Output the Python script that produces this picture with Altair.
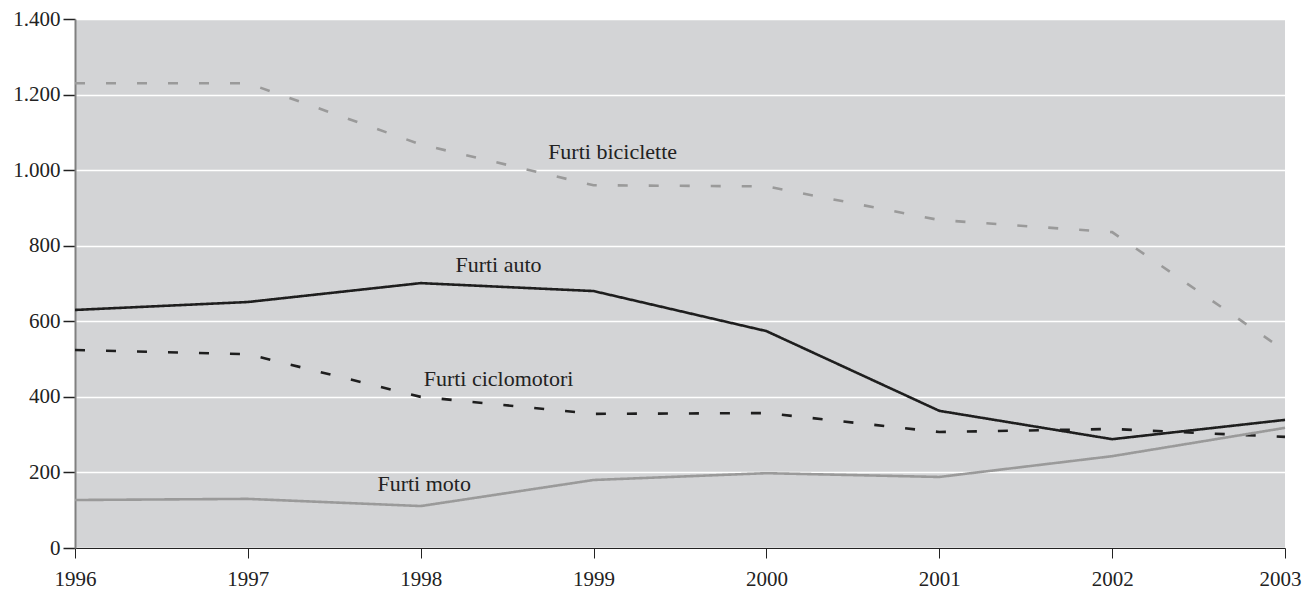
import altair as alt
import pandas as pd

years = [1996, 1997, 1998, 1999, 2000, 2001, 2002, 2003]
biciclette = [1230, 1230, 1068, 960, 957, 868, 836, 522]
auto = [630, 651, 701, 680, 574, 363, 288, 339]
ciclomotori = [524, 513, 400, 355, 357, 307, 315, 294]
moto = [127, 130, 111, 180, 198, 188, 243, 318]

series_names = ["Furti biciclette", "Furti auto", "Furti ciclomotori", "Furti moto"]
series_values = [biciclette, auto, ciclomotori, moto]
series_colors = ["#9a9a9a", "#1e1e1e", "#1e1e1e", "#9a9a9a"]
series_dash = [[10, 21], [1, 0], [10, 21], [1, 0]]

label_x = [1999.11, 1998.45, 1998.45, 1998.02]
label_y = [1048, 749, 447, 169]

y_ticks = list(range(0, 1401, 50))

rows = []
for name, vals in zip(series_names, series_values):
    for yr, v in zip(years, vals):
        rows.append({"anno": yr, "valore": v, "serie": name})
df = pd.DataFrame(rows)
labels = pd.DataFrame({"serie": series_names, "x": label_x, "y": label_y})

FONT = "Liberation Serif, Times New Roman, serif"

xscale = alt.Scale(domain=[1996, 2003], nice=False, zero=False)
yscale = alt.Scale(domain=[0, 1400], nice=False)

lines = alt.Chart(df).mark_line(strokeWidth=2.6).encode(
    x=alt.X("anno:Q", scale=xscale, title=None,
            axis=alt.Axis(values=years, format="d", grid=False, tickSize=10,
                          tickColor="#222222", domainColor="#222222", domainWidth=1.2,
                          labelPadding=10, labelFont=FONT, labelFontSize=21,
                          labelOffset={"condition": {"test": "datum.value === 2003", "value": -5}, "value": 0},
                          labelColor="#222222", labelFlush=False)),
    y=alt.Y("valore:Q", scale=yscale, title=None,
            axis=alt.Axis(values=y_ticks,
                          labelExpr="datum.value % 200 === 0 ? replace(format(datum.value, ','), ',', '.') : ''",
                          tickSize={"condition": {"test": "datum.value % 200 === 0", "value": 12}, "value": 7},
                          gridOpacity={"condition": {"test": "datum.value % 200 === 0", "value": 1}, "value": 0},
                          gridColor="#ffffff", gridWidth=1.5,
                          tickColor="#222222", tickWidth=1.5,
                          domainColor="#808080", domainWidth=2,
                          labelPadding=3, labelFont=FONT, labelFontSize=21,
                          labelColor="#222222")),
    color=alt.Color("serie:N", scale=alt.Scale(domain=series_names, range=series_colors), legend=None),
    strokeDash=alt.StrokeDash("serie:N", scale=alt.Scale(domain=series_names, range=series_dash), legend=None),
)

texts = alt.Chart(labels).mark_text(font=FONT, fontSize=22, color="#222222",
                                     align="center", baseline="middle").encode(
    x=alt.X("x:Q", scale=xscale),
    y=alt.Y("y:Q", scale=yscale),
    text="serie:N",
)

chart = alt.layer(lines, texts).properties(
    width=1210, height=529,
    autosize=alt.AutoSizeParams(type="none"),
    padding={"left": 67, "top": 11, "right": 17, "bottom": 44},
    background="#ffffff",
).configure_view(fill="#d3d4d6", stroke=None)

chart.save("out.html", embed_options={"renderer": "svg", "actions": False})
